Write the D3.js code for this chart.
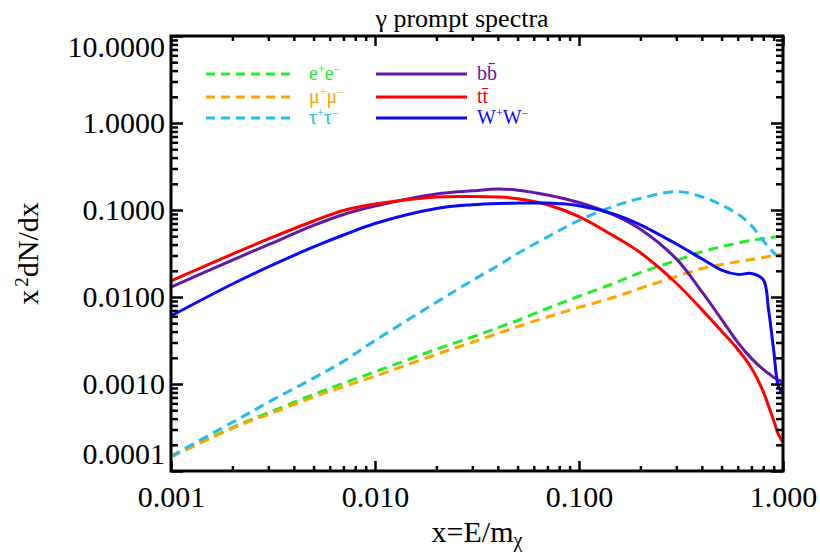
<!DOCTYPE html>
<html>
<head>
<meta charset="utf-8">
<script src="https://cdn.jsdelivr.net/npm/d3@7"></script>
<style>
  body { margin: 0; background: #fff; }
  svg { display: block; font-family: 'Liberation Serif', 'Times New Roman', serif; }
</style>
</head>
<body>
<div id="chart"></div>
<script>
// x = E/m_chi sample points, shared by every spectrum
const xValues = [0.001, 0.002, 0.003, 0.005, 0.007, 0.01, 0.02, 0.03, 0.04, 0.05, 0.07, 0.1,
  0.15, 0.2, 0.3, 0.4, 0.5, 0.6, 0.7, 0.8, 0.85, 0.9, 0.95, 1.0];

// x^2 dN/dx
const eeValues = [1.45e-4, 3.16e-4, 4.68e-4, 7.59e-4, 1.02e-3, 1.38e-3, 2.51e-3, 3.47e-3, 4.44e-3, 5.37e-3, 7.41e-3, 0.0102,
  0.0145, 0.0191, 0.0263, 0.0331, 0.0380, 0.0417, 0.0447, 0.0468, 0.0479, 0.0490, 0.0495, 0.0501];
const mumuValues = [1.45e-4, 3.09e-4, 4.47e-4, 7.08e-4, 9.33e-4, 1.23e-3, 2.19e-3, 3.02e-3, 3.81e-3, 4.57e-3, 5.89e-3, 7.59e-3,
  0.0100, 0.0126, 0.0172, 0.0213, 0.0236, 0.0254, 0.0270, 0.0284, 0.0292, 0.0299, 0.0305, 0.0312];
const tautauValues = [1.48e-4, 3.63e-4, 6.17e-4, 1.17e-3, 1.82e-3, 3.16e-3, 8.71e-3, 0.0155, 0.0229, 0.0316, 0.0490, 0.0759,
  0.112, 0.136, 0.163, 0.142, 0.114, 0.0899, 0.0661, 0.0444, 0.0376, 0.0324, 0.0288, 0.0259];
const bbValues = [0.0130, 0.0266, 0.0399, 0.0664, 0.0887, 0.111, 0.153, 0.166, 0.174, 0.169, 0.149, 0.122,
  0.0867, 0.0600, 0.0274, 0.0115, 5.53e-3, 3.01e-3, 1.97e-3, 1.47e-3, 1.32e-3, 1.19e-3, 1.11e-3, 1.05e-3];
const ttValues = [0.0153, 0.0312, 0.0465, 0.0748, 0.0986, 0.117, 0.141, 0.143, 0.141, 0.135, 0.115, 0.0841,
  0.0494, 0.0323, 0.0144, 7.16e-3, 4.04e-3, 2.51e-3, 1.53e-3, 8.18e-4, 5.58e-4, 3.80e-4, 2.63e-4, 2.15e-4];
const wwValues = [6.05e-3, 0.0141, 0.0222, 0.0376, 0.0516, 0.0700, 0.104, 0.115, 0.119, 0.120, 0.120, 0.112,
  0.0891, 0.0676, 0.0407, 0.0275, 0.0204, 0.0182, 0.0186, 0.0158, 7.08e-3, 2.45e-3, 9.33e-4, 7.67e-4];

// '^' marks the next character as superscript
const seriesNames = ['e^+e^\u2212', '\u03bc^+\u03bc^\u2212', '\u03c4^+\u03c4^\u2212', 'bb\u0304', 'tt\u0304', 'W^+W^\u2212'];

const xTickValues = [0.001, 0.01, 0.1, 1];
const xTickLabels = ['0.001', '0.010', '0.100', '1.000'];
const yTickValues = [1e-4, 1e-3, 1e-2, 1e-1, 1, 10];
const yTickLabels = ['0.0001', '0.0010', '0.0100', '0.1000', '1.0000', '10.0000'];

const series = [
  {name: seriesNames[0], values: eeValues, color: '#22ee22', dashed: true},
  {name: seriesNames[1], values: mumuValues, color: '#ffa500', dashed: true},
  {name: seriesNames[2], values: tautauValues, color: '#22bbee', dashed: true},
  {name: seriesNames[3], values: bbValues, color: '#6118a6', dashed: false},
  {name: seriesNames[4], values: ttValues, color: '#ff0000', dashed: false},
  {name: seriesNames[5], values: wwValues, color: '#0a0af0', dashed: false}
];

const svgWidth = 820;
const svgHeight = 555;
const margin = {top: 36, right: 37, bottom: 84, left: 171};
const width = svgWidth - margin.left - margin.right;
const height = svgHeight - margin.top - margin.bottom;

const svg = d3.select('#chart').append('svg')
  .attr('width', svgWidth)
  .attr('height', svgHeight);

const g = svg.append('g')
  .attr('transform', `translate(${margin.left},${margin.top})`);

const xScale = d3.scaleLog().domain([0.001, 1]).range([0, width]);
const yScale = d3.scaleLog().domain([1e-4, 10]).range([height, 0]);

// minor ticks 2..9 inside every decade
function minorTicks(lo, hi) {
  const out = [];
  for (let e = Math.log10(lo); e < Math.log10(hi); e++) {
    for (let k = 2; k <= 9; k++) out.push(k * Math.pow(10, e));
  }
  return out;
}
const xMinor = minorTicks(0.001, 1);
const yMinor = minorTicks(1e-4, 10);

g.append('clipPath').attr('id', 'plot-clip')
  .append('rect').attr('width', width).attr('height', height);

const line = d3.line()
  .x(d => xScale(d[0]))
  .y(d => yScale(d[1]))
  .curve(d3.curveCatmullRom.alpha(0.5));

g.append('g')
  .attr('clip-path', 'url(#plot-clip)')
  .selectAll('path')
  .data(series)
  .enter().append('path')
  .attr('d', s => line(xValues.map((x, i) => [x, s.values[i]])))
  .attr('fill', 'none')
  .attr('stroke', s => s.color)
  .attr('stroke-width', 3)
  .attr('stroke-dasharray', s => s.dashed ? '10,6' : null);

// axes: IDL style, ticks pointing inward on all four sides
function styleAxis(sel) {
  sel.select('.domain').remove();
  sel.selectAll('line').attr('stroke', '#000').attr('stroke-width', 2.5);
  sel.selectAll('text')
    .attr('font-family', "'Liberation Serif', 'Times New Roman', serif")
    .attr('font-size', 30)
    .attr('fill', '#000');
}

g.append('g')
  .attr('transform', `translate(0,${height})`)
  .call(d3.axisBottom(xScale).tickValues(xTickValues)
    .tickFormat((d, i) => xTickLabels[i]).tickSize(-10).tickPadding(15))
  .call(styleAxis);
g.append('g')
  .attr('transform', `translate(0,${height})`)
  .call(d3.axisBottom(xScale).tickValues(xMinor).tickFormat('').tickSize(-5))
  .call(styleAxis);
g.append('g')
  .call(d3.axisTop(xScale).tickValues(xTickValues).tickFormat('').tickSize(-10))
  .call(styleAxis);
g.append('g')
  .call(d3.axisTop(xScale).tickValues(xMinor).tickFormat('').tickSize(-5))
  .call(styleAxis);

// the end labels sit a little inside the frame, as in the original
const yLabelShift = {0: -17, 5: 11};
g.append('g')
  .call(d3.axisLeft(yScale).tickValues(yTickValues)
    .tickFormat((d, i) => yTickLabels[i]).tickSize(-12).tickPadding(6))
  .call(styleAxis)
  .selectAll('text')
  .attr('y', (d, i) => yLabelShift[i] || 0);
g.append('g')
  .call(d3.axisLeft(yScale).tickValues(yMinor).tickFormat('').tickSize(-7))
  .call(styleAxis);
g.append('g')
  .attr('transform', `translate(${width},0)`)
  .call(d3.axisRight(yScale).tickValues(yTickValues).tickFormat('').tickSize(-12))
  .call(styleAxis);
g.append('g')
  .attr('transform', `translate(${width},0)`)
  .call(d3.axisRight(yScale).tickValues(yMinor).tickFormat('').tickSize(-7))
  .call(styleAxis);

g.append('rect')
  .attr('width', width)
  .attr('height', height)
  .attr('fill', 'none')
  .attr('stroke', '#000')
  .attr('stroke-width', 3);

// write a name with '^' superscripts into a text element
function richText(textSel, str, supSize) {
  const parts = str.split(/(\^.)/).filter(p => p.length);
  parts.forEach(p => {
    if (p[0] === '^') {
      textSel.append('tspan').attr('baseline-shift', 'super').attr('font-size', supSize).text(p[1]);
    } else {
      textSel.append('tspan').text(p);
    }
  });
}

// legend
const legendRowY = [74, 97, 118];
series.forEach((s, i) => {
  const col = i < 3 ? 0 : 1;
  const row = i % 3;
  const x0 = col === 0 ? 206 : 376;
  const x1 = col === 0 ? 290 : 467;
  const tx = col === 0 ? 309 : 477;
  const yy = legendRowY[row];
  svg.append('line')
    .attr('x1', x0).attr('x2', x1).attr('y1', yy).attr('y2', yy)
    .attr('stroke', s.color).attr('stroke-width', 3)
    .attr('stroke-dasharray', s.dashed ? '9,6' : null);
  const t = svg.append('text')
    .attr('x', tx).attr('y', yy + 6)
    .attr('font-size', 20)
    .attr('fill', s.color);
  richText(t, s.name, 12);
});

// title and axis titles
svg.append('text')
  .attr('x', 462).attr('y', 27)
  .attr('text-anchor', 'middle')
  .attr('font-size', 26)
  .text('\u03b3 prompt spectra');

const yTitle = svg.append('text')
  .attr('transform', `translate(38,${margin.top + height / 2}) rotate(-90)`)
  .attr('text-anchor', 'middle')
  .attr('font-size', 30);
yTitle.append('tspan').text('x');
yTitle.append('tspan').attr('baseline-shift', 'super').attr('font-size', 19).attr('dx', 3).text('2');
yTitle.append('tspan').text('dN/dx');

const xTitle = svg.append('text')
  .attr('x', margin.left + width / 2).attr('y', 542)
  .attr('text-anchor', 'middle')
  .attr('font-size', 30);
xTitle.append('tspan').text('x=E/m');
xTitle.append('tspan').attr('dy', 5).attr('font-size', 20).text('\u03c7');
</script>
</body>
</html>
